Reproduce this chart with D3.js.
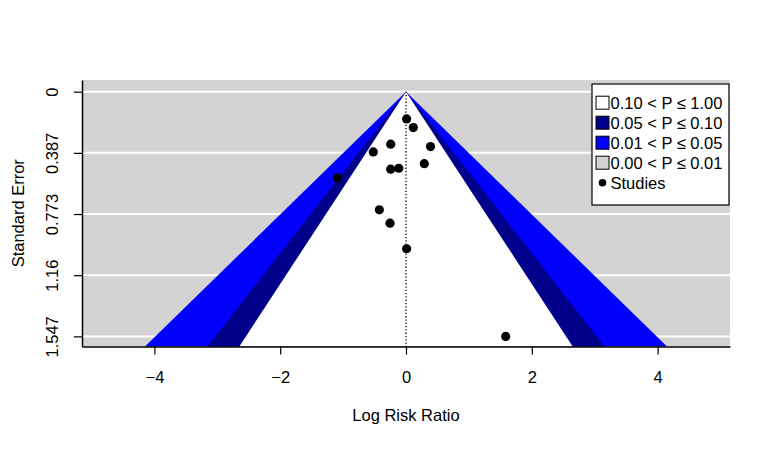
<!DOCTYPE html>
<html>
<head>
<meta charset="utf-8">
<script src="https://cdn.jsdelivr.net/npm/d3@7"></script>
<style>
  body { margin: 0; background: #ffffff; }
  svg text { font-family: "Liberation Sans", Arial, sans-serif; fill: #000; }
</style>
</head>
<body>
<div id="funnel"></div>
<script>
// study estimates (log risk ratio) and their standard errors
var yi  = [0.01, 0.116, -0.243, -0.52, 0.39, 0.291, -0.243, -0.115, -1.09, -0.424, -0.254, 0.01, 1.585];
var sei = [0.172, 0.227, 0.332, 0.381, 0.347, 0.455, 0.49, 0.484, 0.545, 0.747, 0.831, 0.993, 1.547];

var xTicks = [-4, -2, 0, 2, 4];
var seTicks = [0, 0.38675, 0.7735, 1.16025, 1.547];
var seTickLabels = ['0', '0.387', '0.773', '1.16', '1.547'];

// contour levels (z for two-sided p = .10, .05, .01), drawn widest first
var contourZ = [2.5758, 1.96, 1.6449];
var contourColors = ['#0000ff', '#00008b', '#ffffff'];

var legendLabels = ['0.10 < P \u2264 1.00', '0.05 < P \u2264 0.10', '0.01 < P \u2264 0.05', '0.00 < P \u2264 0.01'];
var legendColors = ['#ffffff', '#00008b', '#0000ff', '#d3d3d3'];

var width = 772, height = 449;
var plot = { left: 82, right: 730, top: 80, bottom: 346.5 };
var fontSize = '16.5px';

var svg = d3.select('#funnel')
    .append('svg')
        .attr('width', width)
        .attr('height', height);

var xScale = d3.scaleLinear()
    .domain([-5.151, 5.151])
    .range([plot.left, plot.right]);
var yScale = d3.scaleLinear()
    .domain([-0.074, 1.611])
    .range([plot.top, plot.bottom]);

var seBottom = yScale.domain()[1];

// background
svg.append('rect')
    .attr('x', plot.left)
    .attr('y', plot.top)
    .attr('width', plot.right - plot.left)
    .attr('height', plot.bottom - plot.top)
    .attr('fill', '#d3d3d3');

// white horizontal grid lines
svg.selectAll('.grid')
    .data(seTicks)
    .enter().append('line')
        .attr('x1', plot.left)
        .attr('x2', plot.right)
        .attr('y1', function(d) { return yScale(d); })
        .attr('y2', function(d) { return yScale(d); })
        .attr('stroke', '#ffffff')
        .attr('stroke-width', 2);

// contour regions
svg.selectAll('.region')
    .data(contourZ)
    .enter().append('path')
        .attr('d', function(z) {
            return d3.line()([
                [xScale(-z * seBottom), yScale(seBottom)],
                [xScale(0), yScale(0)],
                [xScale(z * seBottom), yScale(seBottom)]
            ]) + 'Z';
        })
        .attr('fill', function(d, i) { return contourColors[i]; });

// reference line at 0
svg.append('line')
    .attr('x1', xScale(0)).attr('x2', xScale(0))
    .attr('y1', yScale(0)).attr('y2', yScale(seBottom))
    .attr('stroke', '#000')
    .attr('stroke-width', 1.3)
    .attr('stroke-dasharray', '1.3,2');

// axes
var xAxis = d3.axisBottom(xScale)
    .tickValues(xTicks)
    .tickFormat(function(d) { return d < 0 ? '\u2212' + Math.abs(d) : String(d); })
    .tickSizeInner(8)
    .tickSizeOuter(0)
    .tickPadding(17);
var gx = svg.append('g')
    .attr('transform', 'translate(0,' + plot.bottom + ')')
    .call(xAxis);
gx.selectAll('text').style('font-size', fontSize);

var yAxis = d3.axisLeft(yScale)
    .tickValues(seTicks)
    .tickFormat(function(d, i) { return seTickLabels[i]; })
    .tickSizeInner(8)
    .tickSizeOuter(0);
var gy = svg.append('g')
    .attr('transform', 'translate(' + plot.left + ',0)')
    .call(yAxis);
gy.selectAll('text')
    .style('font-size', fontSize)
    .attr('text-anchor', 'middle')
    .attr('x', 0).attr('y', 0).attr('dy', null)
    .attr('transform', 'translate(-30,0) rotate(-90)')
    .attr('dominant-baseline', 'central');

[gx, gy].forEach(function(g) {
    g.select('.domain').attr('stroke', '#000').attr('stroke-width', 1.5);
    g.selectAll('.tick line').attr('stroke', '#000').attr('stroke-width', 1.2);
});

// studies
svg.selectAll('.study')
    .data(yi)
    .enter().append('circle')
        .attr('cx', function(d) { return xScale(d); })
        .attr('cy', function(d, i) { return yScale(sei[i]); })
        .attr('r', 4.6)
        .attr('fill', '#000');

// axis titles
svg.append('text')
    .text('Log Risk Ratio')
    .attr('x', xScale(0))
    .attr('y', 421)
    .attr('text-anchor', 'middle')
    .style('font-size', fontSize);
svg.append('text')
    .text('Standard Error')
    .attr('transform', 'translate(18,' + ((plot.top + plot.bottom) / 2) + ') rotate(-90)')
    .attr('text-anchor', 'middle')
    .attr('dominant-baseline', 'central')
    .style('font-size', fontSize);

// legend
var legend = svg.append('g').attr('transform', 'translate(592,84)');
legend.append('rect')
    .attr('width', 137)
    .attr('height', 121)
    .attr('fill', '#fff')
    .attr('stroke', '#000')
    .attr('stroke-width', 1.2);
legendLabels.forEach(function(label, i) {
    var row = legend.append('g').attr('transform', 'translate(0,' + (18.7 + i * 20) + ')');
    row.append('rect')
        .attr('x', 4).attr('y', -6.5)
        .attr('width', 13).attr('height', 13)
        .attr('fill', legendColors[i])
        .attr('stroke', '#000');
    row.append('text')
        .text(label)
        .attr('x', 18.5)
        .attr('dominant-baseline', 'central')
        .style('font-size', fontSize);
});
var studyRow = legend.append('g').attr('transform', 'translate(0,' + (18.7 + 4 * 20) + ')');
studyRow.append('circle').attr('cx', 10.5).attr('cy', 0).attr('r', 3.8).attr('fill', '#000');
studyRow.append('text')
    .text('Studies')
    .attr('x', 18.5)
    .attr('dominant-baseline', 'central')
    .style('font-size', fontSize);
</script>
</body>
</html>
